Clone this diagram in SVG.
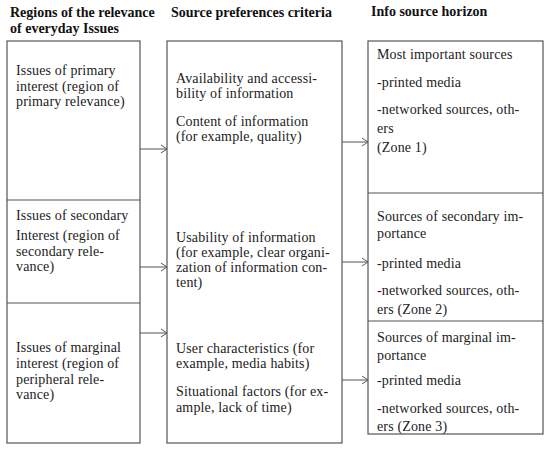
<svg xmlns="http://www.w3.org/2000/svg" width="550" height="450" viewBox="0 0 550 450">
<style>
.box{fill:#fff;stroke:#555;stroke-width:1.2}
.div{stroke:#555;stroke-width:1.2}
.t{font-family:"Liberation Serif","Times New Roman",serif;font-size:14px;letter-spacing:0.15px;fill:#222}
.h{font-family:"Liberation Serif","Times New Roman",serif;font-size:14px;font-weight:bold;fill:#111}
.c{stroke:#555;stroke-width:1;fill:none}
</style>
<defs>
<marker id="ah" markerWidth="10" markerHeight="10" refX="9" refY="5" orient="auto" markerUnits="userSpaceOnUse">
<path d="M3,1 L9,5 L3,9" fill="none" stroke="#555" stroke-width="1"/>
</marker>
</defs>
<rect width="550" height="450" fill="#fff"/>
<g id="headers">
<text class="h" x="10" y="17">Regions of the relevance</text>
<text class="h" x="10" y="33">of everyday Issues</text>
<text class="h" x="171" y="17">Source preferences criteria</text>
<text class="h" x="371" y="16">Info source horizon</text>
</g>
<g id="regions">
<rect class="box" x="7" y="41" width="133" height="402"/>
<line class="div" x1="7" y1="200" x2="140" y2="200"/>
<line class="div" x1="7" y1="303" x2="140" y2="303"/>
<g id="region-primary">
<text class="t" x="16" y="75">Issues of primary</text>
<text class="t" x="16" y="91">interest (region of</text>
<text class="t" x="16" y="106">primary relevance)</text>
</g>
<g id="region-secondary">
<text class="t" x="16" y="220">Issues of secondary</text>
<text class="t" x="16" y="240">Interest (region of</text>
<text class="t" x="16" y="256">secondary rele-</text>
<text class="t" x="16" y="271">vance)</text>
</g>
<g id="region-marginal">
<text class="t" x="16" y="352">Issues of marginal</text>
<text class="t" x="16" y="368">interest (region of</text>
<text class="t" x="16" y="384">peripheral rele-</text>
<text class="t" x="16" y="399">vance)</text>
</g>
</g>
<g id="criteria">
<rect class="box" x="167" y="41" width="175" height="402"/>
<text class="t" x="176" y="83">Availability and accessi-</text>
<text class="t" x="176" y="98">bility of information</text>
<text class="t" x="176" y="126">Content of information</text>
<text class="t" x="176" y="141">(for example, quality)</text>
<text class="t" x="176" y="242">Usability of information</text>
<text class="t" x="176" y="257">(for example, clear organi-</text>
<text class="t" x="176" y="272">zation of information con-</text>
<text class="t" x="176" y="287">tent)</text>
<text class="t" x="176" y="353">User characteristics (for</text>
<text class="t" x="176" y="368">example, media habits)</text>
<text class="t" x="176" y="396">Situational factors (for ex-</text>
<text class="t" x="176" y="412">ample, lack of time)</text>
</g>
<g id="horizon">
<rect class="box" x="368" y="41" width="175" height="393"/>
<line class="div" x1="368" y1="193" x2="543" y2="193"/>
<line class="div" x1="368" y1="321" x2="543" y2="321"/>
<g id="zone1">
<text class="t" x="377" y="59">Most important sources</text>
<text class="t" x="377" y="87">-printed media</text>
<text class="t" x="377" y="114">-networked sources, oth-</text>
<text class="t" x="377" y="133">ers</text>
<text class="t" x="377" y="152">(Zone 1)</text>
</g>
<g id="zone2">
<text class="t" x="377" y="221">Sources of secondary im-</text>
<text class="t" x="377" y="238">portance</text>
<text class="t" x="377" y="268">-printed media</text>
<text class="t" x="377" y="295">-networked sources, oth-</text>
<text class="t" x="377" y="314">ers (Zone 2)</text>
</g>
<g id="zone3">
<text class="t" x="377" y="342">Sources of marginal im-</text>
<text class="t" x="377" y="360">portance</text>
<text class="t" x="377" y="385">-printed media</text>
<text class="t" x="377" y="413">-networked sources, oth-</text>
<text class="t" x="377" y="431">ers (Zone 3)</text>
</g>
</g>
<g id="connectors">
<line class="c" x1="140" y1="149" x2="167" y2="149" marker-end="url(#ah)"/>
<line class="c" x1="140" y1="267" x2="167" y2="267" marker-end="url(#ah)"/>
<line class="c" x1="140" y1="333" x2="167" y2="333" marker-end="url(#ah)"/>
<line class="c" x1="342" y1="142" x2="368" y2="142" marker-end="url(#ah)"/>
<line class="c" x1="342" y1="262" x2="368" y2="262" marker-end="url(#ah)"/>
<line class="c" x1="342" y1="380" x2="368" y2="380" marker-end="url(#ah)"/>
</g>
</svg>
